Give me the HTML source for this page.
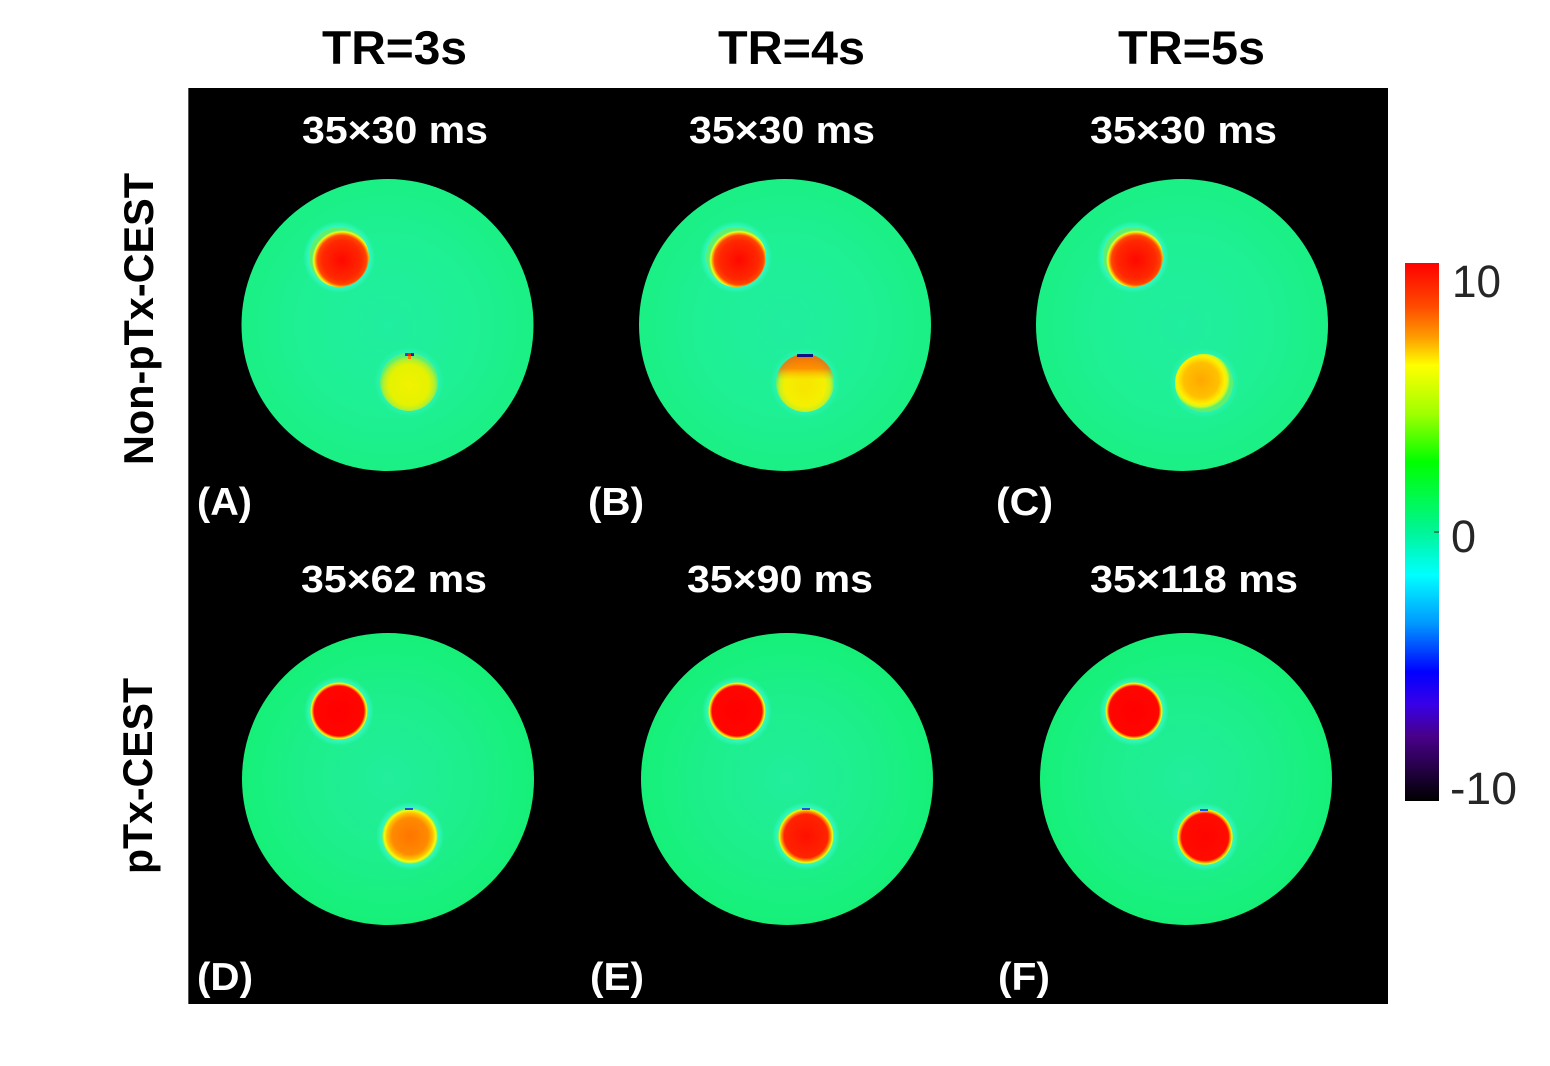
<!DOCTYPE html>
<html>
<head>
<meta charset="utf-8">
<style>
  html,body{margin:0;padding:0;background:#fff;}
  svg{display:block;}
  text{font-family:"Liberation Sans",Arial,sans-serif;}
</style>
</head>
<body>
<svg width="1550" height="1066" viewBox="0 0 1550 1066" xmlns="http://www.w3.org/2000/svg">
  <defs>
    <radialGradient id="ph1" cx="50%" cy="50%" r="50%">
      <stop offset="0%" stop-color="#20eea0"/>
      <stop offset="60%" stop-color="#1ef094"/>
      <stop offset="100%" stop-color="#1af084"/>
    </radialGradient>
    <radialGradient id="ph2" cx="50%" cy="50%" r="50%">
      <stop offset="0%" stop-color="#22ee9c"/>
      <stop offset="60%" stop-color="#1cef8a"/>
      <stop offset="100%" stop-color="#16f078"/>
    </radialGradient>
    <radialGradient id="halo" cx="50%" cy="50%" r="50%">
      <stop offset="72%" stop-color="#40ffe8" stop-opacity="0"/>
      <stop offset="84%" stop-color="#40ffe8" stop-opacity="0.55"/>
      <stop offset="100%" stop-color="#40ffe8" stop-opacity="0"/>
    </radialGradient>
    <radialGradient id="redA" cx="55%" cy="55%" r="50%">
      <stop offset="0%" stop-color="#ff0800"/>
      <stop offset="65%" stop-color="#ff2800"/>
      <stop offset="82%" stop-color="#ff4600"/>
      <stop offset="89%" stop-color="#ffa800"/>
      <stop offset="94%" stop-color="#e8ff20"/>
      <stop offset="100%" stop-color="#60f070"/>
    </radialGradient>
    <radialGradient id="redP" cx="50%" cy="50%" r="50%">
      <stop offset="0%" stop-color="#ff0000"/>
      <stop offset="86%" stop-color="#ff0600"/>
      <stop offset="92%" stop-color="#ffb000"/>
      <stop offset="96%" stop-color="#e8ff20"/>
      <stop offset="100%" stop-color="#50f080"/>
    </radialGradient>
    <radialGradient id="yelA" cx="50%" cy="55%" r="50%">
      <stop offset="0%" stop-color="#f2f200"/>
      <stop offset="70%" stop-color="#e4f200"/>
      <stop offset="88%" stop-color="#b0f030"/>
      <stop offset="100%" stop-color="#60f070"/>
    </radialGradient>
    <radialGradient id="yelB" cx="50%" cy="55%" r="50%">
      <stop offset="0%" stop-color="#f8e400"/>
      <stop offset="70%" stop-color="#f4f000"/>
      <stop offset="88%" stop-color="#c8f020"/>
      <stop offset="100%" stop-color="#60f070"/>
    </radialGradient>
    <linearGradient id="orangeTop" x1="0" y1="0" x2="0" y2="1">
      <stop offset="0%" stop-color="#ff6000" stop-opacity="0.9"/>
      <stop offset="25%" stop-color="#ff7000" stop-opacity="0.75"/>
      <stop offset="45%" stop-color="#ffb000" stop-opacity="0"/>
    </linearGradient>
    <radialGradient id="orC" cx="45%" cy="45%" r="50%">
      <stop offset="0%" stop-color="#ffa800"/>
      <stop offset="60%" stop-color="#ffc000"/>
      <stop offset="82%" stop-color="#fff000"/>
      <stop offset="92%" stop-color="#d0f820"/>
      <stop offset="100%" stop-color="#60f070"/>
    </radialGradient>
    <radialGradient id="orD" cx="50%" cy="50%" r="50%">
      <stop offset="0%" stop-color="#ff7400"/>
      <stop offset="65%" stop-color="#ff8a00"/>
      <stop offset="82%" stop-color="#ffc000"/>
      <stop offset="92%" stop-color="#f0ff10"/>
      <stop offset="100%" stop-color="#60f070"/>
    </radialGradient>
    <radialGradient id="redE" cx="50%" cy="50%" r="50%">
      <stop offset="0%" stop-color="#ff1000"/>
      <stop offset="78%" stop-color="#ff2400"/>
      <stop offset="89%" stop-color="#ffa000"/>
      <stop offset="95%" stop-color="#e8ff10"/>
      <stop offset="100%" stop-color="#60f070"/>
    </radialGradient>
    <radialGradient id="redF" cx="50%" cy="50%" r="50%">
      <stop offset="0%" stop-color="#ff0400"/>
      <stop offset="84%" stop-color="#ff0c00"/>
      <stop offset="92%" stop-color="#ffb000"/>
      <stop offset="97%" stop-color="#e8ff10"/>
      <stop offset="100%" stop-color="#60f070"/>
    </radialGradient>
    <linearGradient id="cbar" x1="0" y1="0" x2="0" y2="1">
      <stop offset="0%" stop-color="#ff0000"/>
      <stop offset="8%" stop-color="#ff4a00"/>
      <stop offset="14%" stop-color="#ffa000"/>
      <stop offset="19%" stop-color="#ffff00"/>
      <stop offset="28%" stop-color="#a0ff00"/>
      <stop offset="37%" stop-color="#00ff00"/>
      <stop offset="50%" stop-color="#00f598"/>
      <stop offset="58%" stop-color="#00ffff"/>
      <stop offset="67%" stop-color="#0098ff"/>
      <stop offset="76%" stop-color="#0000ff"/>
      <stop offset="82%" stop-color="#3800e8"/>
      <stop offset="88%" stop-color="#48008a"/>
      <stop offset="100%" stop-color="#000000"/>
    </linearGradient>
  </defs>

  <!-- Column titles -->
  <text x="394.5" y="64" font-size="47" font-weight="bold" fill="#000" text-anchor="middle" textLength="145" lengthAdjust="spacingAndGlyphs">TR=3s</text>
  <text x="791.5" y="64" font-size="47" font-weight="bold" fill="#000" text-anchor="middle" textLength="147" lengthAdjust="spacingAndGlyphs">TR=4s</text>
  <text x="1191.5" y="64" font-size="47" font-weight="bold" fill="#000" text-anchor="middle" textLength="147" lengthAdjust="spacingAndGlyphs">TR=5s</text>

  <!-- Row labels -->
  <text transform="translate(153,319) rotate(-90)" font-size="42" font-weight="bold" fill="#000" text-anchor="middle" textLength="292" lengthAdjust="spacingAndGlyphs">Non-pTx-CEST</text>
  <text transform="translate(152,776) rotate(-90)" font-size="42" font-weight="bold" fill="#000" text-anchor="middle" textLength="196" lengthAdjust="spacingAndGlyphs">pTx-CEST</text>

  <!-- Black panel -->
  <rect x="188" y="88" width="1200" height="916" fill="#000"/>
  <line x1="188.5" y1="88" x2="188.5" y2="1004" stroke="#555" stroke-width="1"/>

  <!-- Row 1 phantoms -->
  <g>
    <circle cx="387.5" cy="325" r="146" fill="url(#ph1)"/>
    <circle cx="785" cy="325" r="146" fill="url(#ph1)"/>
    <circle cx="1182" cy="325" r="146" fill="url(#ph1)"/>
  </g>
  <!-- Row 2 phantoms -->
  <g>
    <circle cx="388" cy="779" r="146" fill="url(#ph2)"/>
    <circle cx="787" cy="779" r="146" fill="url(#ph2)"/>
    <circle cx="1186" cy="779" r="146" fill="url(#ph2)"/>
  </g>

  <!-- halos -->
  <g>
    <circle cx="339" cy="257" r="36" fill="url(#halo)"/>
    <circle cx="736" cy="257" r="36" fill="url(#halo)"/>
    <circle cx="1133" cy="257" r="36" fill="url(#halo)"/>
    <circle cx="409" cy="382" r="35" fill="url(#halo)" opacity="0.5"/>
    <circle cx="805" cy="383" r="35" fill="url(#halo)" opacity="0.5"/>
    <circle cx="1204" cy="383" r="35" fill="url(#halo)" opacity="0.5"/>
    <circle cx="339" cy="711" r="35" fill="url(#halo)"/>
    <circle cx="737" cy="711" r="35" fill="url(#halo)"/>
    <circle cx="1134" cy="711" r="35" fill="url(#halo)"/>
    <circle cx="410" cy="836" r="34" fill="url(#halo)"/>
    <circle cx="806" cy="836" r="34" fill="url(#halo)"/>
    <circle cx="1205" cy="837" r="34" fill="url(#halo)"/>
  </g>

  <!-- Row 1 vials -->
  <circle cx="339" cy="257" r="30" fill="url(#redA)"/>
  <circle cx="736" cy="257" r="30" fill="url(#redA)"/>
  <circle cx="1133" cy="257" r="30" fill="url(#redA)"/>

  <circle cx="409" cy="382" r="29" fill="url(#yelA)"/>
  <rect x="405" y="353" width="3" height="3" fill="#2040ff"/>
  <rect x="408" y="353" width="3" height="3" fill="#ff2000"/>
  <rect x="411" y="353" width="3" height="3" fill="#1020c0"/>
  <rect x="408" y="356" width="3" height="3" fill="#ff8000"/>

  <circle cx="805" cy="383" r="29" fill="url(#yelB)"/>
  <circle cx="805" cy="383" r="29" fill="url(#orangeTop)"/>
  <rect x="797" y="354" width="16" height="3" fill="#101080"/>

  <circle cx="1204" cy="383" r="29" fill="url(#orC)"/>

  <!-- Row 2 vials -->
  <circle cx="339" cy="711" r="29" fill="url(#redP)"/>
  <circle cx="737" cy="711" r="29" fill="url(#redP)"/>
  <circle cx="1134" cy="711" r="29" fill="url(#redP)"/>

  <circle cx="410" cy="836" r="28" fill="url(#orD)"/>
  <rect x="405" y="808" width="8" height="2" fill="#2050e0"/>
  <circle cx="806" cy="836" r="28" fill="url(#redE)"/>
  <rect x="802" y="808" width="8" height="2" fill="#2050e0"/>
  <circle cx="1205" cy="837" r="28" fill="url(#redF)"/>
  <rect x="1200" y="809" width="8" height="2" fill="#2050e0"/>

  <!-- Subtitles -->
  <g font-size="38" font-weight="bold" fill="#fff" text-anchor="middle">
    <text x="395" y="143" textLength="186" lengthAdjust="spacingAndGlyphs">35×30 ms</text>
    <text x="782" y="143" textLength="186" lengthAdjust="spacingAndGlyphs">35×30 ms</text>
    <text x="1183.5" y="143" textLength="187" lengthAdjust="spacingAndGlyphs">35×30 ms</text>
    <text x="394" y="592" textLength="186" lengthAdjust="spacingAndGlyphs">35×62 ms</text>
    <text x="780" y="592" textLength="186" lengthAdjust="spacingAndGlyphs">35×90 ms</text>
    <text x="1194" y="592" textLength="208" lengthAdjust="spacingAndGlyphs">35×118 ms</text>
  </g>

  <!-- Panel labels -->
  <g font-size="39" font-weight="bold" fill="#fff">
    <text x="197" y="515" textLength="55" lengthAdjust="spacingAndGlyphs">(A)</text>
    <text x="588" y="515" textLength="56" lengthAdjust="spacingAndGlyphs">(B)</text>
    <text x="996" y="515" textLength="57" lengthAdjust="spacingAndGlyphs">(C)</text>
    <text x="197" y="990" textLength="56" lengthAdjust="spacingAndGlyphs">(D)</text>
    <text x="590" y="990" textLength="54" lengthAdjust="spacingAndGlyphs">(E)</text>
    <text x="998" y="990" textLength="52" lengthAdjust="spacingAndGlyphs">(F)</text>
  </g>

  <!-- Colorbar -->
  <rect x="1405" y="263" width="34" height="538" fill="url(#cbar)"/>
  <line x1="1434" y1="532" x2="1439" y2="532" stroke="#222" stroke-width="1"/>
  <g font-size="45" fill="#262626">
    <text x="1452" y="297" textLength="49" lengthAdjust="spacingAndGlyphs">10</text>
    <text x="1451" y="552">0</text>
    <text x="1450" y="804" textLength="67" lengthAdjust="spacingAndGlyphs">-10</text>
  </g>
</svg>
</body>
</html>
